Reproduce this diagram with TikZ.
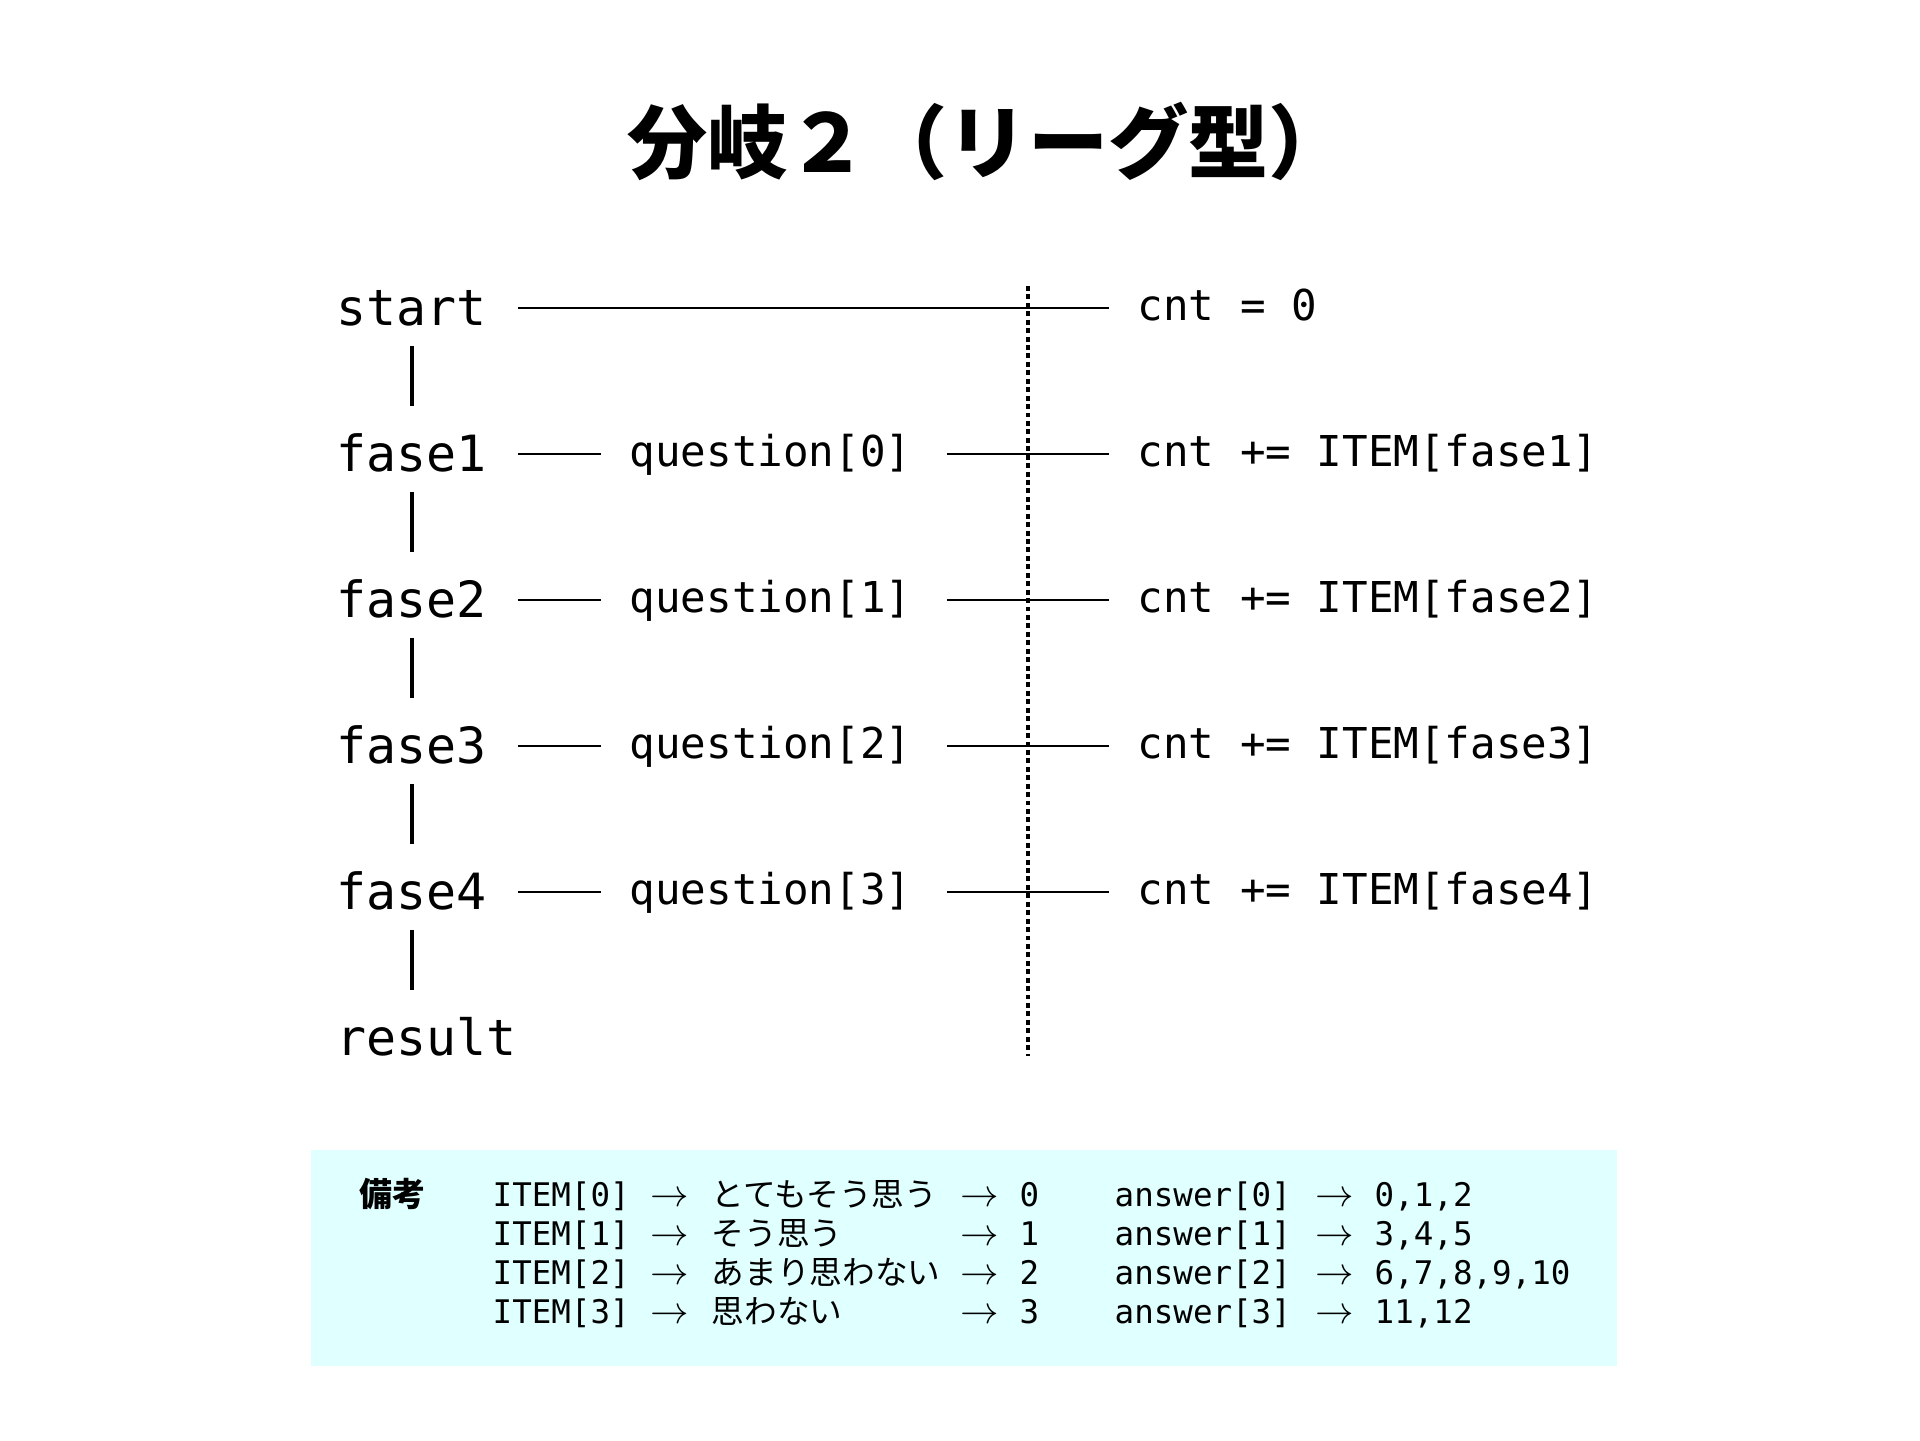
\documentclass[tikz,border=0pt]{standalone}
\usepackage{fontspec}
\setmonofont{DejaVu Sans Mono}
\newfontfamily\jpfont{Noto Sans CJK JP}
\definecolor{notecyan}{RGB}{224,255,255}

\begin{document}
\begin{tikzpicture}[
	phase/.style={font=\ttfamily\fontsize{14.2}{17}\selectfont, inner sep=0pt, text height=12.8pt, text depth=2.6pt, anchor=west},
	step text/.style={font=\ttfamily\fontsize{12.1}{14}\selectfont, inner sep=0pt, text height=9.7pt, text depth=2.4pt, anchor=west},
	note/.style={font=\ttfamily\fontsize{9.25}{11}\selectfont, inner sep=0pt, anchor=base west},
	note jp/.style={font=\jpfont\fontsize{9.3}{11}\selectfont, inner sep=0pt, anchor=base west},
	note arrow/.style={font=\fontsize{11}{13}\selectfont, inner sep=0pt, anchor=base west},
	link/.style={line width=0.7pt, shorten <=0.3cm, shorten >=0.28cm},
	bar/.style={line width=1.3pt, shorten <=0.1cm, shorten >=0.2cm}
]
	\useasboundingbox (0,0) rectangle (19.2,-14.4);
	% Title
	\node[font=\jpfont\bfseries\fontsize{22.8}{27}\selectfont, inner sep=0pt] (title) at (9.88,-1.41) {分岐２（リーグ型）};
	% Draw the phases
	\node[phase] (start) at (3.36,-3.08) {start};
	\node[step text] (cnt0) at (11.37,-3.08) {cnt = 0};
	\foreach \i [evaluate=\i as \q using int(\i-1)] in {1,...,4} {
		\pgfmathsetmacro{\y}{-3.08-1.46*\i}
		\node[phase] (fase\i) at (3.36,\y) {fase\i};
		\node[step text] (q\i) at (6.29,\y) {question[\q]};
		\node[step text] (cnt\i) at (11.37,\y) {cnt += ITEM[fase\i]};
		\draw[link] (fase\i) -- (q\i);
		\draw[link, shorten <=0.35cm] (q\i) -- (cnt\i);
	}
	\node[phase] (result) at (3.36,-10.38) {result};
	% Connect the phases
	\draw[link] (start) -- (cnt0);
	\foreach \a/\b in {start/fase1, fase1/fase2, fase2/fase3, fase3/fase4} {
		\draw[bar] (\a) -- (\b);
	}
	\draw[bar] (fase4.south) -- (fase4.south |- result.north);
	% Dotted divider
	\coordinate (dtop) at (10.28,-2.86);
	\coordinate (dbot) at (10.28,-10.56);
	\draw[line width=1.1pt, dash pattern=on 1.4pt off 1pt] (dtop) -- (dbot);
	% Notes
	\fill[notecyan] (3.11,-11.50) rectangle (16.17,-13.66);
	\node[note jp, font=\jpfont\bfseries\fontsize{9.4}{11}\selectfont] (remark) at (3.59,-12.06) {備考};
	\foreach \i/\jp/\nums in {0/とてもそう思う/{0,1,2}, 1/そう思う/{3,4,5}, 2/あまり思わない/{6,7,8,9,10}, 3/思わない/{11,12}} {
		\pgfmathsetmacro{\y}{-12.06-0.39*\i}
		\node[note] (item\i) at (4.92,\y) {ITEM[\i]};
		\node[note arrow] (ia\i) at (6.50,\y) {$\rightarrow$};
		\node[note jp] (jp\i) at (7.11,\y) {\jp};
		\node[note arrow] (ib\i) at (9.60,\y) {$\rightarrow$};
		\node[note] (val\i) at (10.19,\y) {\i};
		\node[note] (ans\i) at (11.14,\y) {answer[\i]};
		\node[note arrow] (ic\i) at (13.15,\y) {$\rightarrow$};
		\node[note] (nums\i) at (13.74,\y) {\nums};
	}
\end{tikzpicture}
\end{document}
